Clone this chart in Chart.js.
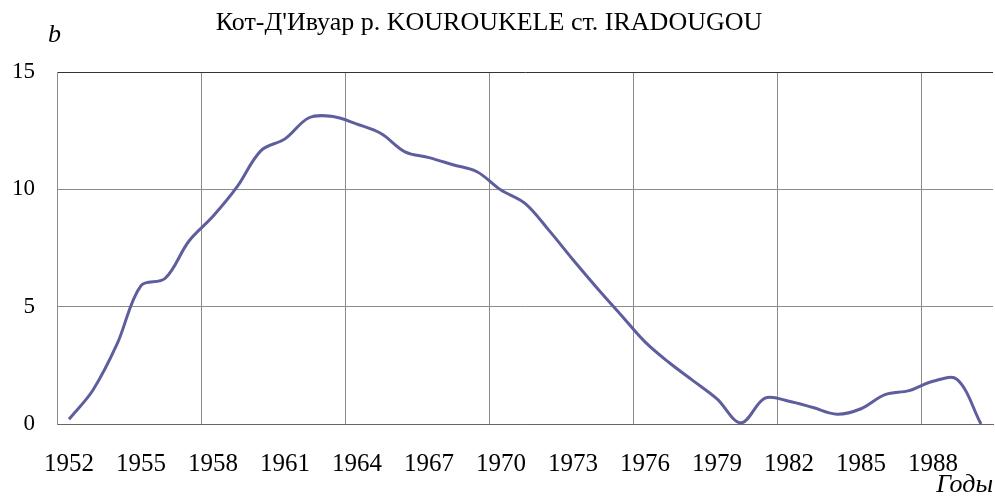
<!DOCTYPE html>
<html>
<head>
<meta charset="utf-8">
<script src="https://cdn.jsdelivr.net/npm/chart.js@4/dist/chart.umd.min.js"></script>
<style>
  html, body { margin: 0; padding: 0; background: #fff; }
  #wrap { width: 995px; height: 498px; }
</style>
</head>
<body>
<div id="wrap"><canvas id="chart" width="995" height="498"></canvas></div>
<script>
const years = [];
for (let y = 1952; y <= 1990; y++) years.push(String(y));

const bValues = [
  0.2, 1.45, 3.4, 5.9, 6.2, 7.8, 8.85, 10.1, 11.65, 12.15,
  13.05, 13.1, 12.78, 12.38, 11.6, 11.35, 11.05, 10.75, 9.97, 9.4,
  8.25, 7.0, 5.8, 4.65, 3.5, 2.62, 1.85, 1.07, 0.05, 1.1,
  0.97, 0.7, 0.42, 0.65, 1.25, 1.42, 1.82, 1.9, 0
];

const yTicks = [0, 5, 10, 15];

const titleText = "Кот-Д'Ивуар р. KOUROUKELE ст. IRADOUGOU";
const serif = "'Liberation Serif', 'Times New Roman', serif";

const textPlugin = {
  id: 'texts',
  afterDraw(chart) {
    const ctx = chart.ctx;
    ctx.save();
    ctx.fillStyle = '#000';
    ctx.textBaseline = 'alphabetic';
    ctx.font = '26px ' + serif;
    ctx.textAlign = 'center';
    ctx.fillText(titleText, 489, 30);
    ctx.font = 'italic 26px ' + serif;
    ctx.textAlign = 'left';
    ctx.fillText('b', 48, 42);
    ctx.textAlign = 'right';
    ctx.fillText('Годы', 993, 492);
    ctx.restore();
  }
};

new Chart(document.getElementById('chart').getContext('2d'), {
  type: 'line',
  data: {
    labels: years,
    datasets: [{
      data: bValues,
      borderColor: '#5e5e9e',
      borderWidth: 3,
      pointRadius: 0,
      tension: 0.35,
      fill: false
    }]
  },
  options: {
    responsive: false,
    animation: false,
    layout: { padding: { top: 72, right: 2, left: 0, bottom: 0 } },
    plugins: {
      legend: { display: false },
      tooltip: { enabled: false }
    },
    scales: {
      x: {
        type: 'category',
        offset: true,
        afterFit: (scale) => {
          scale.height = 74;
          scale.paddingLeft = 0;
          scale.paddingRight = 0;
        },
        grid: {
          offset: true,
          drawTicks: false,
          lineWidth: 1,
          color: (c) => {
            if (c.index === years.length) return '#333';
            return c.index % 6 === 0 ? '#8c8c8c' : 'rgba(0,0,0,0)';
          }
        },
        border: { color: '#666', width: 1 },
        ticks: {
          autoSkip: false,
          maxRotation: 0,
          padding: 25,
          color: '#000',
          font: { family: serif, size: 25 },
          callback: function (value, index) {
            return index % 3 === 0 ? this.getLabelForValue(value) : '';
          }
        }
      },
      y: {
        min: 0,
        max: 15,
        afterFit: (scale) => { scale.width = 57; },
        afterBuildTicks: (scale) => { scale.ticks = yTicks.map(v => ({ value: v })); },
        grid: {
          drawTicks: false,
          lineWidth: 1,
          color: (c) => c.tick && c.tick.value === 15 ? '#333' : '#8c8c8c'
        },
        border: { color: '#8c8c8c', width: 1 },
        ticks: {
          padding: 22,
          color: '#000',
          font: { family: serif, size: 23 }
        }
      }
    }
  },
  plugins: [textPlugin]
});
</script>
</body>
</html>
